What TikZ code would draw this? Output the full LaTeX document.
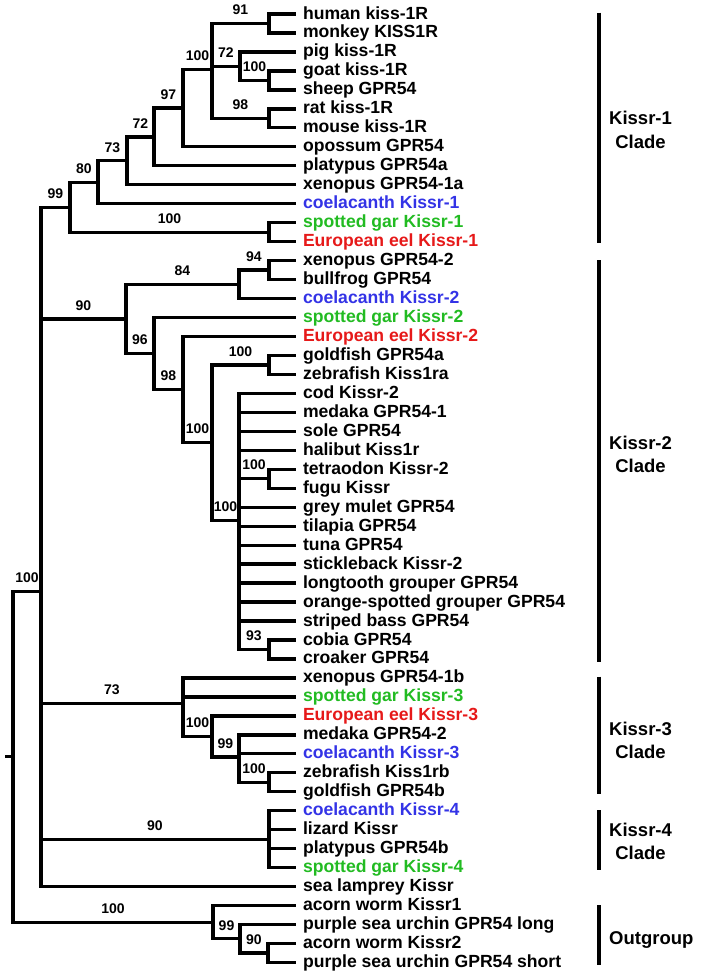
\documentclass[tikz,border=0pt]{standalone}
\usepackage{fontspec}
\setmainfont{Liberation Sans}

\definecolor{coelblue}{RGB}{51,51,230}
\definecolor{gargreen}{RGB}{34,187,34}
\definecolor{eelred}{RGB}{230,25,25}

% linha da folha k (em pt, para baixo)
\newcommand{\ry}[1]{14+18.97*(#1-1)}

\begin{document}
\begin{tikzpicture}[x=1pt, y=-1pt,
  branch/.style={line width=3.3pt},
  leaf/.style={anchor=west, inner xsep=6.8pt, inner ysep=0pt,
    text height=12.7pt, text depth=2.7pt,
    font=\fontsize{17.6}{19}\selectfont\bfseries},
  boot/.style={above=7pt, inner sep=0pt, font=\fontsize{14}{14}\selectfont\bfseries},
  cladebar/.style={line width=4pt},
  cladelabel/.style={anchor=west, align=center, inner sep=0pt,
    font=\fontsize{18.5}{23.5}\selectfont\bfseries}]

\useasboundingbox (0,0) rectangle (702,978);

% Folhas (51 sequencias)
\foreach \lab/\col [count=\i] in {
  human kiss-1R/black, monkey KISS1R/black, pig kiss-1R/black,
  goat kiss-1R/black, sheep GPR54/black, rat kiss-1R/black,
  mouse kiss-1R/black, opossum GPR54/black, platypus GPR54a/black,
  xenopus GPR54-1a/black, coelacanth Kissr-1/coelblue,
  spotted gar Kissr-1/gargreen, European eel Kissr-1/eelred,
  xenopus GPR54-2/black, bullfrog GPR54/black, coelacanth Kissr-2/coelblue,
  spotted gar Kissr-2/gargreen, European eel Kissr-2/eelred,
  goldfish GPR54a/black, zebrafish Kiss1ra/black, cod Kissr-2/black,
  medaka GPR54-1/black, sole GPR54/black, halibut Kiss1r/black,
  tetraodon Kissr-2/black, fugu Kissr/black, grey mulet GPR54/black,
  tilapia GPR54/black, tuna GPR54/black, stickleback Kissr-2/black,
  longtooth grouper GPR54/black, orange-spotted grouper GPR54/black,
  striped bass GPR54/black, cobia GPR54/black, croaker GPR54/black,
  xenopus GPR54-1b/black, spotted gar Kissr-3/gargreen,
  European eel Kissr-3/eelred, medaka GPR54-2/black,
  coelacanth Kissr-3/coelblue, zebrafish Kiss1rb/black,
  goldfish GPR54b/black, coelacanth Kissr-4/coelblue, lizard Kissr/black,
  platypus GPR54b/black, spotted gar Kissr-4/gargreen,
  sea lamprey Kissr/black, acorn worm Kissr1/black,
  purple sea urchin GPR54 long/black, acorn worm Kissr2/black,
  purple sea urchin GPR54 short/black} {
  \node[leaf, text=\col] (L\i) at (296,{\ry{\i}}) {\lab};
}

% Nos internos
\coordinate (n91)    at (269,{\ry{1.5}});
\coordinate (n100g)  at (269,{\ry{4.5}});
\coordinate (n72a)   at (240,{\ry{3.75}});
\coordinate (n98)    at (269,{\ry{6.5}});
\coordinate (n100m)  at (212,{\ry{3.9167}});
\coordinate (n97)    at (183,{\ry{5.9583}});
\coordinate (n72b)   at (154,{\ry{7.4792}});
\coordinate (n73a)   at (127,{\ry{8.7396}});
\coordinate (n80)    at (98,{\ry{9.8698}});
\coordinate (n100ge) at (269,{\ry{12.5}});
\coordinate (n99)    at (70,{\ry{11.1849}});
\coordinate (n94)    at (269,{\ry{14.5}});
\coordinate (n84)    at (239,{\ry{15.25}});
\coordinate (n100z)  at (269,{\ry{19.5}});
\coordinate (n100t)  at (269,{\ry{25.5}});
\coordinate (n93)    at (269,{\ry{34.5}});
\coordinate (n100p)  at (239,{\ry{27.6923}});
\coordinate (n100c)  at (212,{\ry{23.5962}});
\coordinate (n98b)   at (183,{\ry{20.7981}});
\coordinate (n96)    at (154,{\ry{18.899}});
\coordinate (n90)    at (126,{\ry{17.0745}});
\coordinate (n100zb) at (269,{\ry{41.5}});
\coordinate (n99b)   at (239,{\ry{40.1667}});
\coordinate (n100e)  at (212,{\ry{39.0833}});
\coordinate (n73b)   at (183,{\ry{37.3611}});
\coordinate (n90b)   at (269,{\ry{44.5}});
\coordinate (nIn)    at (41,{\ry{31.4241}});
\coordinate (n90c)   at (268,{\ry{50.5}});
\coordinate (n99c)   at (240,{\ry{49.75}});
\coordinate (nOut)   at (213,{\ry{48.875}});
\coordinate (root)   at (13,{\ry{40.1496}});
\coordinate (stub)   at (5,{\ry{40.1496}});

% Ramos com valores de bootstrap
\foreach \p/\c/\b in {
  root/nIn/100, root/nOut/100,
  nIn/n99/99, nIn/n90/90, nIn/n73b/73, nIn/n90b/90,
  n99/n80/80, n99/n100ge/100, n80/n73a/73, n73a/n72b/72, n72b/n97/97,
  n97/n100m/100, n100m/n91/91, n100m/n72a/72, n100m/n98/98, n72a/n100g/100,
  n90/n84/84, n90/n96/96, n84/n94/94, n96/n98b/98, n98b/n100c/100,
  n100c/n100z/100, n100c/n100p/100, n100p/n100t/100, n100p/n93/93,
  n73b/n100e/100, n100e/n99b/99, n99b/n100zb/100,
  nOut/n99c/99, n99c/n90c/90} {
  \draw[branch] (\p) |- (\c) node[boot, pos=0.75] {\b};
}

% Ramos terminais
\foreach \p/\k in {
  n91/1, n91/2, n72a/3, n100g/4, n100g/5, n98/6, n98/7, n97/8, n72b/9,
  n73a/10, n80/11, n100ge/12, n100ge/13,
  n94/14, n94/15, n84/16, n96/17, n98b/18, n100z/19, n100z/20,
  n100p/21, n100p/22, n100p/23, n100p/24, n100t/25, n100t/26,
  n100p/27, n100p/28, n100p/29, n100p/30, n100p/31, n100p/32, n100p/33,
  n93/34, n93/35,
  n73b/36, n73b/37, n100e/38, n99b/39, n99b/40, n100zb/41, n100zb/42,
  n90b/43, n90b/44, n90b/45, n90b/46, nIn/47,
  nOut/48, n99c/49, n90c/50, n90c/51} {
  \draw[branch] (\p) |- (L\k.west);
}
\draw[branch] (stub) -- (root);

% Clados
\foreach \top/\bot/\lab/\ly [count=\j] in {
  12.7/243/{Kissr-1\\Clade}/130, 260/661.7/{Kissr-2\\Clade}/454.5,
  676.7/794/{Kissr-3\\Clade}/740.5, 810/870/{Kissr-4\\Clade}/841.5,
  905/965/Outgroup/940} {
  \draw[cladebar] (599,\top) -- (599,\bot);
  \node[cladelabel] (c\j) at (609,\ly) {\lab};
}

\end{tikzpicture}
\end{document}
